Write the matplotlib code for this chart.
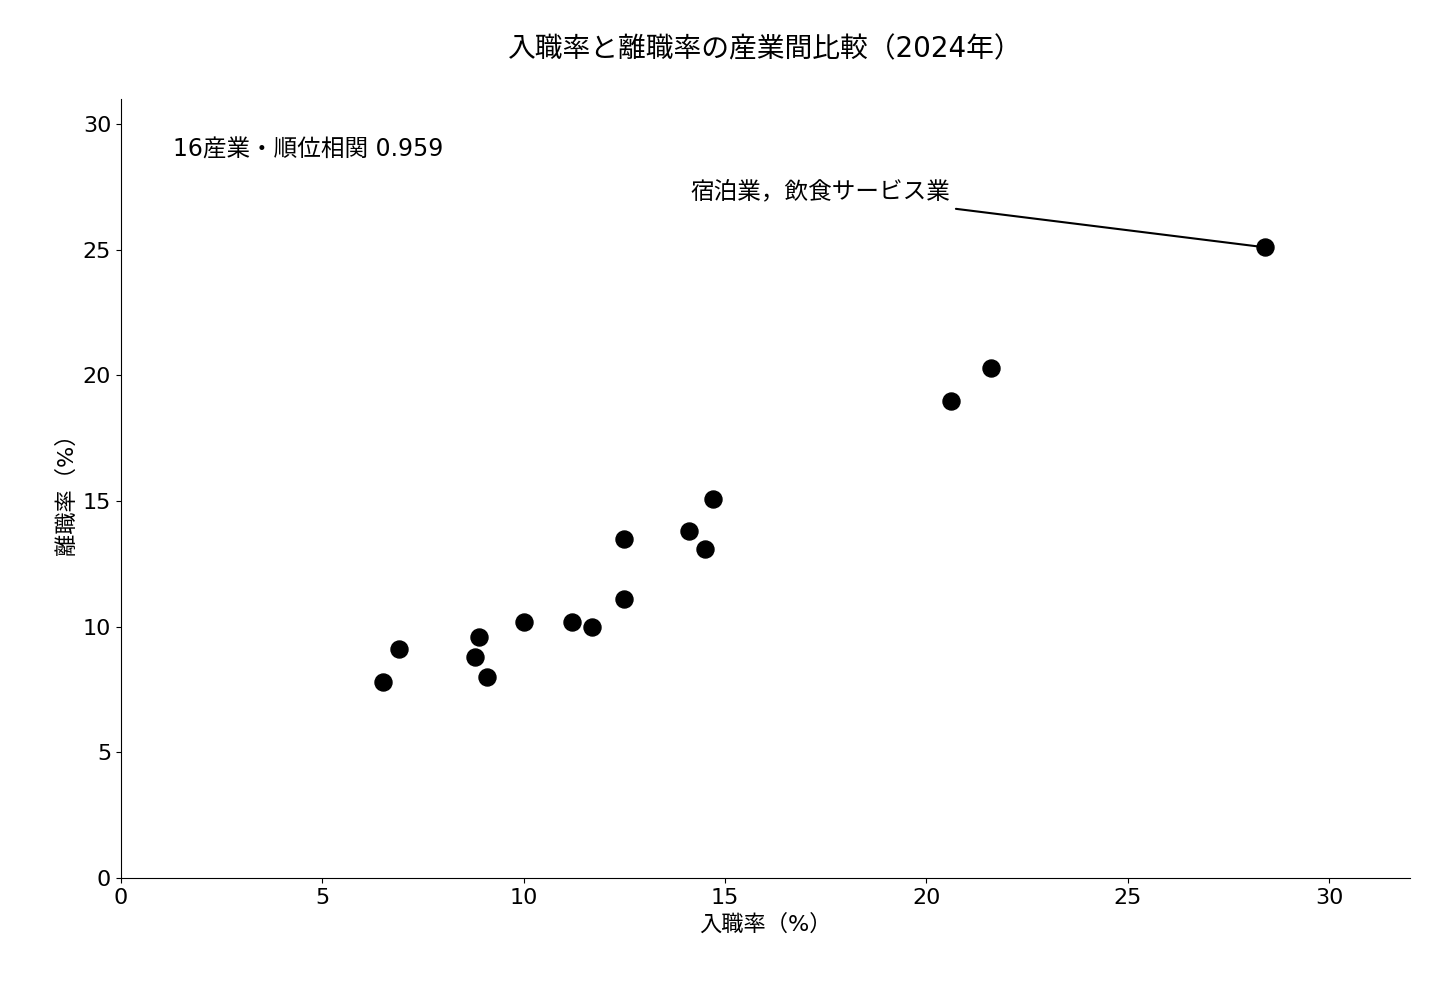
import matplotlib
matplotlib.use("Agg")
import matplotlib.pyplot as plt

plt.rcParams['font.family'] = ['DejaVu Sans', 'Noto Sans CJK JP']

hire = [6.5, 6.9, 8.8, 8.9, 9.1, 10.0, 11.2, 11.7, 12.5, 12.5, 14.1, 14.5, 14.7, 20.6, 21.6, 28.4]
sep = [7.8, 9.1, 8.8, 9.6, 8.0, 10.2, 10.2, 10.0, 13.5, 11.1, 13.8, 13.1, 15.1, 19.0, 20.3, 25.1]
label = "宿泊業，飲食サービス業"

fig, ax = plt.subplots(figsize=(14.4, 9.9), dpi=100)
fig.subplots_adjust(left=0.084, right=0.979, top=0.9, bottom=0.113)
ax.scatter(hire, sep, s=150, color='black', zorder=3)
ax.set_xlim(0, 32)
ax.set_ylim(0, 31)
ax.set_xticks(range(0, 31, 5))
ax.set_yticks(range(0, 31, 5))
ax.tick_params(labelsize=16)
ax.spines['top'].set_visible(False)
ax.spines['right'].set_visible(False)
ax.set_xlabel("入職率（%）", fontsize=16)
ax.set_ylabel("離職率（%）", fontsize=16)
ax.set_title("入職率と離職率の産業間比較（2024年）", fontsize=20, pad=30)
ax.text(1.3, 29.0, "16産業・順位相関 0.959", fontsize=17, va='center')
ax.annotate(label, xy=(hire[-1], sep[-1]), xytext=(20.6, 27.3),
            fontsize=17, ha='right', va='center',
            arrowprops=dict(arrowstyle='-', color='black', lw=1.5, shrinkA=12, shrinkB=5))
fig.savefig("out.png")
